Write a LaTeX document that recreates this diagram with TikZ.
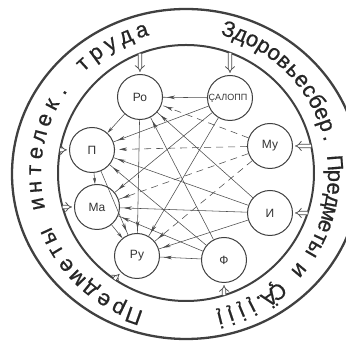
\documentclass[tikz,border=0pt]{standalone}
\usepackage{fontspec}
\setmainfont{Liberation Sans}
\newfontfamily\ringfont[FakeBold=0.6]{Liberation Sans}
\usetikzlibrary{arrows.meta,decorations.markings,calc}
\begin{document}
\begin{tikzpicture}[x=1pt,y=1pt,
  nd/.style={circle, draw=black!75, line width=1pt, minimum size=45pt, inner sep=0pt,
    font=\fontsize{12}{12}\selectfont, text=black!80},
  conn/.style={draw=black!70, line width=0.55pt, postaction={decorate},
    decoration={markings, mark=at position -4pt with {\arrow{Stealth[length=8pt,width=3.6pt]}}}},
  dconn/.style={conn, dash pattern=on 7pt off 5pt},
  sconn/.style={draw=black!70, line width=0.55pt, -{Stealth[length=6.5pt,width=3.2pt]}},
  dbl/.style={draw=black!70, line width=0.75pt, double=white, double distance=2.8pt,
    -{Implies}, shorten >=2pt},
  ringchar/.style={font=\ringfont\fontsize{22}{22}\selectfont, text=black!85, inner sep=0pt, anchor=base},
  ring/.style={draw=black!75}]
\useasboundingbox (0,0) rectangle (346,342);
\fill[white] (0,0) rectangle (346,342);
\coordinate (oc) at (186,168);
\coordinate (ic) at (186,169);
\coordinate (tc) at (184,168);
\draw[ring, line width=2.3pt] (oc) ellipse[x radius=174, y radius=165];
\draw[ring, line width=2pt] (ic) circle[radius=128];

% ring texts
\foreach \ch [count=\k] in {П,р,е,д,м,е,т,ы,{},и,н,т,е,л,е,к,.,{},т,р,у,д,а}{
  \pgfmathsetmacro{\ang}{250.5-(\k-1)*6.55}
  \node[ringchar, rotate=\ang-90] (lt\k) at ($(tc)+(\ang:143)$) {\ch};
}
\foreach \ch [count=\k] in {З,д,о,р,о,в,ь,е,с,б,е,р,.,{},П,р,е,д,м,е,т,ы,{},и}{
  \pgfmathsetmacro{\ang}{72.8-(\k-1)*4.9}
  \node[ringchar, rotate=\ang-90] (rt\k) at ($(tc)+(\ang:144)$) {\ch};
}
\foreach \ch/\ang [count=\k] in {Ç/-51.5,Ä/-55.3,./-59,į/-62.8,į/-67.2,į/-71.6,į/-76}{
  \node[ringchar, rotate=\ang-90] (bt\k) at ($(tc)+(\ang:143)$) {\ch};
}

% nodes
\node[nd] (ro)  at (140,245) {Ро};
\node[nd, font=\fontsize{9}{9}\selectfont] (sal) at (230,244) {\hspace*{-4pt}ÇАЛОПП};
\node[nd] (p)   at (92,192)  {П};
\node[nd] (mu)  at (270,196) {Му};
\node[nd] (ma)  at (97,135)  {Ма};
\node[nd] (i)   at (270,129) {И};
\node[nd] (ru)  at (137,86)  {Ру};
\node[nd] (f)   at (224,82)  {Ф};

% inputs from the ring
\coordinate (ro-in)  at ($(ic)+(111.1:128)$);
\coordinate (sal-in) at ($(ic)+(69.9:128)$);
\coordinate (p-in)   at ($(ic)+(169.6:128)$);
\coordinate (ma-in)  at ($(ic)+(195.4:128)$);
\coordinate (mu-in)  at ($(ic)+(12.2:128)$);
\coordinate (i-in)   at ($(ic)+(-18.2:128)$);
\coordinate (f-in)   at ($(ic)+(-72.7:128)$);
\coordinate (ru-in)  at ($(ic)+(236:128)$);
\foreach \n in {ro,sal,p,ma,mu,i,f,ru}{
  \draw[dbl] (\n-in) -- (\n);
}

% connections
\foreach \a/\b in {sal/ro, sal/p, sal/ma, sal/ru, ro/ru, p/ru, i/ma, i/p, i/ro, i/ru, f/ru, f/ro, f/p, f/ma}{
  \draw[conn] (\a) -- (\b);
}
\foreach \a/\b in {ro/p, p/ma, ma/ru}{
  \draw[sconn] (\a) -- (\b);
}
\foreach \a/\b in {mu/ro, mu/p, mu/ma, mu/ru}{
  \draw[dconn] (\a) -- (\b);
}
\end{tikzpicture}
\end{document}
